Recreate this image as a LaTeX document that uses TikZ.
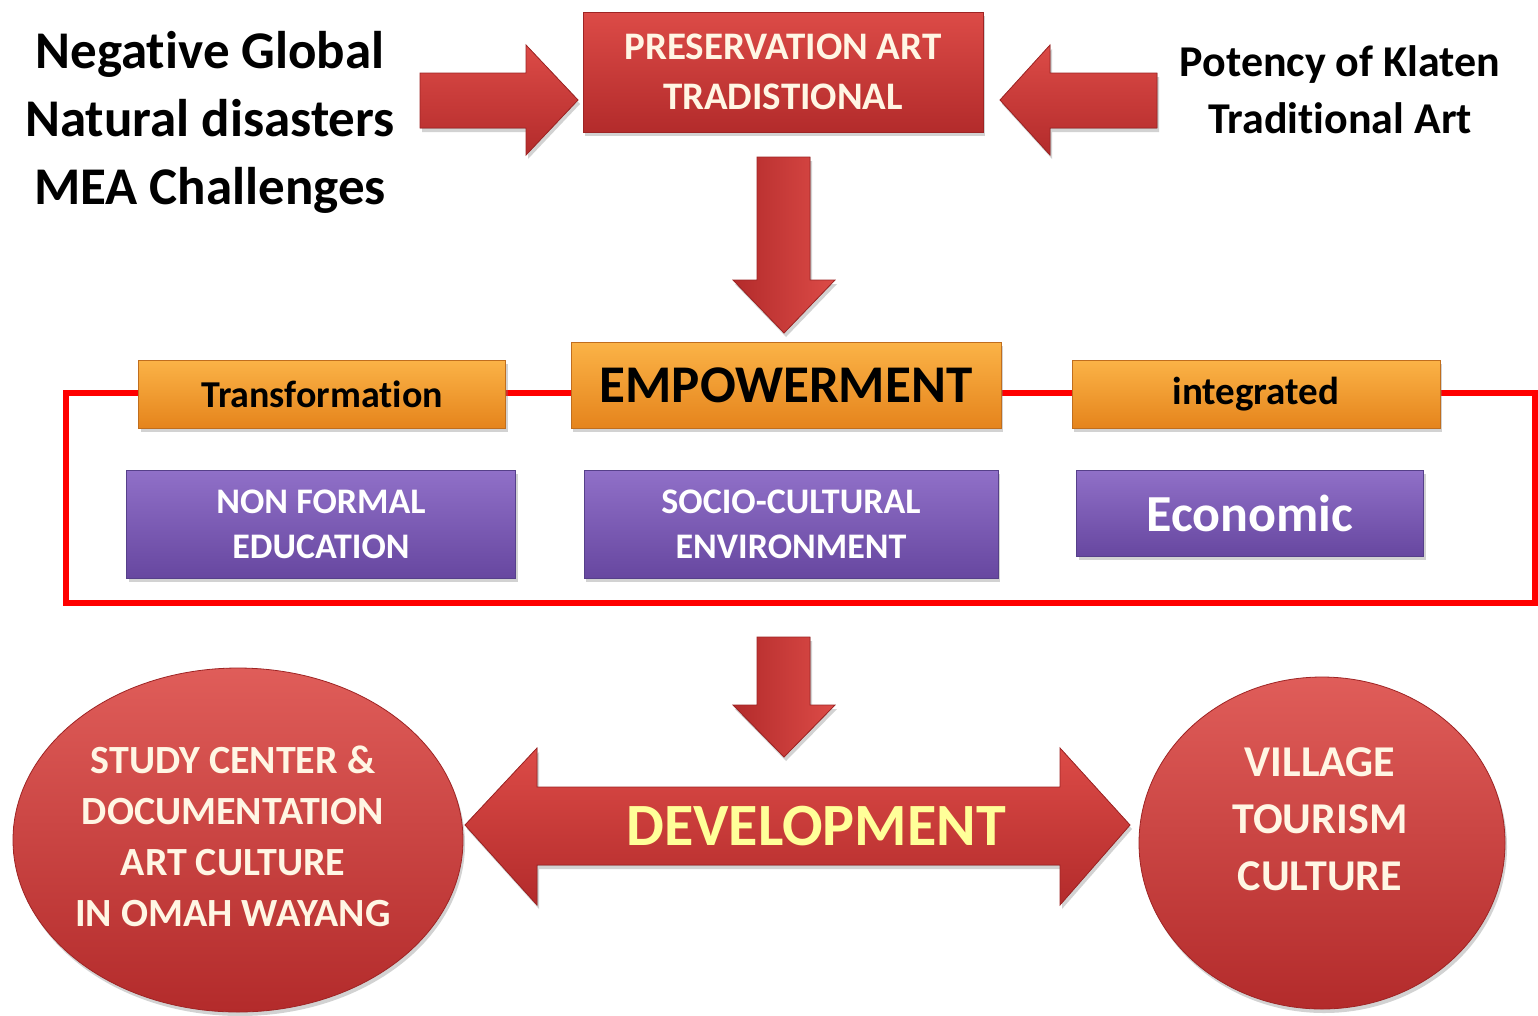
\documentclass[tikz,border=0pt]{standalone}
\usepackage{fontspec}
\setmainfont[Ligatures={NoCommon,NoRare,NoContextual,NoDiscretionary},Contextuals=NoAlternate]{Carlito}
\usetikzlibrary{shadows,shapes.geometric}
\definecolor{redtop}{HTML}{DC4B47}
\definecolor{redbot}{HTML}{B32B2B}
\definecolor{redline}{HTML}{9E2424}
\definecolor{ortop}{HTML}{FBB347}
\definecolor{orbot}{HTML}{E5841C}
\definecolor{orline}{HTML}{C06E1E}
\definecolor{putop}{HTML}{9070C8}
\definecolor{pubot}{HTML}{6747A0}
\definecolor{puline}{HTML}{56408A}
\definecolor{cream}{HTML}{FFF6E4}
\definecolor{devyellow}{HTML}{FFFF99}
\definecolor{frame}{HTML}{FF0000}
\tikzset{
  sh/.style={drop shadow={opacity=0.35,shadow xshift=2pt,shadow yshift=-4pt}},
  redbox/.style={rectangle,draw=redline,line width=1pt,top color=redtop,bottom color=redbot,sh,
    text=cream,align=center,inner sep=0pt},
  orbox/.style={rectangle,draw=orline,line width=1pt,top color=ortop,bottom color=orbot,sh,
    text=black,align=center,inner sep=0pt},
  pubox/.style={rectangle,draw=puline,line width=1pt,top color=putop,bottom color=pubot,sh,
    text=white,align=center,inner sep=0pt},
  blk/.style={draw=redline,line width=0.8pt,top color=redtop,bottom color=redbot,sh},
  blkv/.style={draw=redline,line width=0.8pt,left color=redbot,right color=redtop,sh},
  bubble/.style={ellipse,draw=redline,line width=0.8pt,top color=redtop!90!white,bottom color=redbot,sh,
    inner sep=0pt},
  bubbletext/.style={text=cream,align=center,inner sep=0pt},
  plain/.style={align=center,text=black,inner sep=0pt},
}
\begin{document}
\begin{tikzpicture}[x=1pt,y=-1pt]
\useasboundingbox[fill=white] (0,0) rectangle (1538,1015);

% side texts
\node[plain,font=\fontsize{53}{68}\selectfont\bfseries] (neg) at (210,122)
  {Negative Global\\Natural disasters\\MEA Challenges};
\node[plain,font=\fontsize{44}{57}\selectfont\bfseries] (pot) at (1340,90)
  {Potency of Klaten\\Traditional Art};

% top box
\node[redbox,minimum width=400,minimum height=120,font=\fontsize{39}{50}\selectfont\bfseries] (pres) at (783,72)
  {PRESERVATION ART\\TRADISTIONAL};

% side block arrows
\filldraw[blk] (420,73) -- (526,73) -- (526,45) -- (578,100) -- (526,155) -- (526,128) -- (420,128) -- cycle;
\filldraw[blk] (1157,73) -- (1050,73) -- (1050,45) -- (1000,100) -- (1050,155) -- (1050,128) -- (1157,128) -- cycle;

% down arrow 1
\filldraw[blkv] (757,157) -- (810,157) -- (810,280) -- (835,280) -- (784,333) -- (733,280) -- (757,280) -- cycle;

% red frame
\draw[frame,line width=6pt] (66,393) rectangle (1535,603);

% orange boxes
\node[orbox,minimum width=367,minimum height=68,font=\fontsize{38}{46}\selectfont\bfseries] (trans) at (322,394) {Transformation};
\node[orbox,minimum width=430,minimum height=86,font=\fontsize{53}{60}\selectfont\bfseries] (emp) at (786,385) {EMPOWERMENT};
\node[orbox,minimum width=368,minimum height=68,font=\fontsize{39}{46}\selectfont\bfseries] (integ) at (1256,394) {integrated};

% purple boxes
\node[pubox,minimum width=389,minimum height=108,font=\fontsize{36}{45}\selectfont\bfseries] (nfe) at (321,524)
  {NON FORMAL\\EDUCATION};
\node[pubox,minimum width=414,minimum height=108,font=\fontsize{36}{45}\selectfont\bfseries] (soc) at (791,524)
  {SOCIO-CULTURAL\\ENVIRONMENT};
\node[pubox,minimum width=347,minimum height=86,font=\fontsize{52}{60}\selectfont\bfseries] (eco) at (1250,513)
  {Economic};

% down arrow 2
\filldraw[blkv] (757,637) -- (810,637) -- (810,705) -- (835,705) -- (784,757) -- (733,705) -- (757,705) -- cycle;

% ellipses
\node[bubble,minimum width=450,minimum height=344] (study) at (238,840) {};
\node[bubbletext,font=\fontsize{40}{51}\selectfont\bfseries] (studytxt) at (233,836)
  {STUDY CENTER \&\\DOCUMENTATION\\ART CULTURE\\IN OMAH WAYANG};
\node[bubble,minimum width=366,minimum height=332] (vill) at (1322,843) {};
\node[bubbletext,font=\fontsize{44}{57}\selectfont\bfseries] (villtxt) at (1320,819)
  {VILLAGE\\TOURISM\\CULTURE};

% double arrow
\filldraw[blk] (465,825) -- (537,748) -- (537,787) -- (1060,787) -- (1060,748) -- (1130,825)
  -- (1060,905) -- (1060,865) -- (537,865) -- (537,905) -- cycle;
\node[text=devyellow,font=\fontsize{60}{66}\selectfont\bfseries,inner sep=0pt] (dev) at (816,826) {DEVELOPMENT};

\end{tikzpicture}
\end{document}
